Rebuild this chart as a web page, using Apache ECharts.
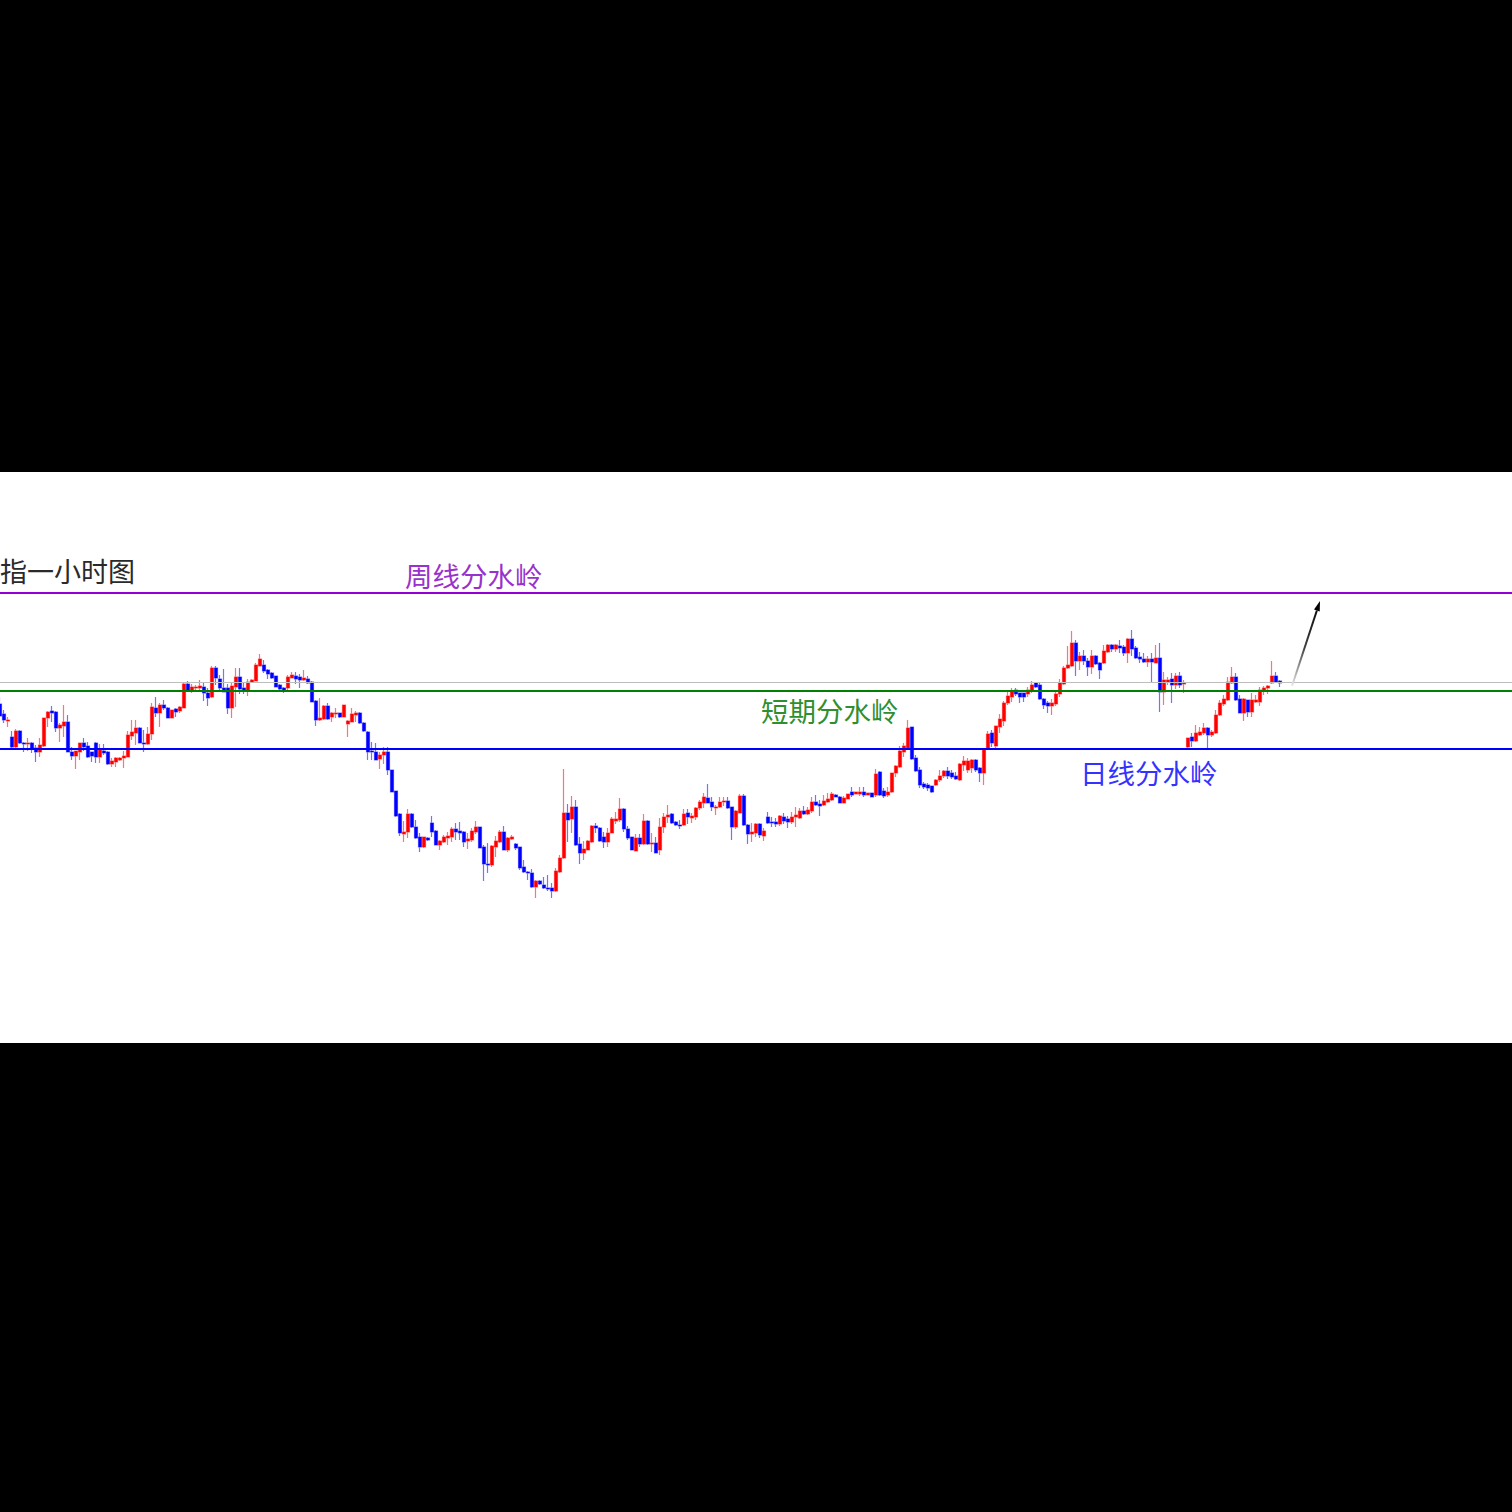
<!DOCTYPE html>
<html><head><meta charset="utf-8">
<script src="https://cdn.jsdelivr.net/npm/echarts@6/dist/echarts.min.js"></script>
<style>html,body{margin:0;padding:0;background:#000;}#c{width:1512px;height:1512px;}</style>
</head><body><div id="c"></div>
<script>
// One-hour candles (open, close, low, high)
const opens = [
98.39,98.29,98.22,98.06,97.96,98.12,98.00,97.99,98.00,97.95,
97.91,97.97,98.25,98.32,98.31,98.15,98.17,98.21,97.91,97.87,
97.91,98.00,97.97,97.91,98.00,97.86,97.92,97.91,97.79,97.81,
97.83,97.85,97.86,98.07,98.10,98.15,98.00,97.99,98.09,98.35,
98.30,98.38,98.35,98.25,98.34,98.32,98.35,98.59,98.53,98.55,
98.55,98.56,98.50,98.46,98.75,98.64,98.55,98.55,98.35,98.56,
98.66,98.55,98.53,98.61,98.62,98.77,98.78,98.73,98.70,98.67,
98.58,98.55,98.55,98.65,98.67,98.66,98.63,98.64,98.61,98.42,
98.23,98.24,98.37,98.26,98.29,98.30,98.26,98.19,98.21,98.28,
98.30,98.20,98.11,97.92,97.91,97.84,97.88,97.91,97.73,97.52,
97.29,97.09,97.11,97.29,97.16,97.06,96.96,97.05,97.20,97.12,
96.98,97.01,97.05,97.06,97.14,97.12,97.11,97.02,97.03,97.11,
97.16,96.96,96.79,96.78,96.96,97.01,97.11,96.93,97.04,96.99,
96.96,96.76,96.71,96.70,96.56,96.62,96.58,96.55,96.55,96.52,
96.71,96.85,97.30,97.24,97.36,96.99,96.90,96.93,97.01,97.17,
97.15,97.06,97.01,97.10,97.22,97.23,97.34,97.14,97.06,96.92,
97.05,96.99,97.22,96.99,97.00,96.93,97.16,97.26,97.29,97.21,
97.18,97.18,97.30,97.25,97.26,97.35,97.40,97.45,97.41,97.35,
97.36,97.41,97.42,97.36,97.16,97.30,97.47,97.18,97.09,97.10,
97.19,97.07,97.26,97.21,97.21,97.19,97.26,97.24,97.21,97.26,
97.25,97.32,97.29,97.32,97.41,97.39,97.38,97.41,97.43,97.48,
97.46,97.40,97.44,97.51,97.49,97.49,97.51,97.48,97.50,97.48,
97.71,97.52,97.48,97.51,97.70,97.76,97.91,97.95,98.16,97.85,
97.73,97.59,97.58,97.57,97.58,97.63,97.67,97.72,97.70,97.67,
97.63,97.78,97.73,97.75,97.83,97.75,97.70,97.95,98.10,97.97,
98.16,98.22,98.40,98.46,98.53,98.50,98.50,98.49,98.52,98.60,
98.58,98.44,98.40,98.37,98.39,98.49,98.59,98.75,98.77,99.00,
98.82,98.87,98.82,98.76,98.87,98.80,98.80,98.91,98.98,98.94,
98.97,98.96,98.90,99.04,98.95,98.86,98.84,98.81,98.84,98.80,
98.85,98.51,98.61,98.64,98.58,98.67,98.59,97.96,98.06,98.02,
98.08,98.10,98.15,98.08,98.10,98.28,98.39,98.43,98.60,98.66,
98.44,98.30,98.43,98.31,98.41,98.41,98.53,98.55,98.60,98.67,98.62
];
const closes = [
98.27,98.23,98.23,97.96,98.12,98.00,97.99,98.00,97.95,97.91,
97.98,98.25,98.31,98.30,98.15,98.18,98.21,97.91,97.87,97.92,
98.00,97.96,97.86,97.87,97.86,97.94,97.90,97.79,97.82,97.85,
97.85,97.87,98.08,98.11,98.15,98.00,97.99,98.09,98.36,98.30,
98.38,98.35,98.25,98.33,98.31,98.36,98.59,98.53,98.56,98.56,
98.57,98.50,98.45,98.75,98.65,98.55,98.51,98.35,98.57,98.66,
98.54,98.53,98.61,98.63,98.78,98.84,98.72,98.69,98.65,98.56,
98.54,98.53,98.66,98.68,98.64,98.63,98.65,98.60,98.41,98.23,
98.25,98.37,98.24,98.30,98.30,98.26,98.38,98.22,98.29,98.30,
98.20,98.12,97.91,97.91,97.83,97.88,97.91,97.73,97.51,97.27,
97.10,97.11,97.29,97.16,97.05,96.96,97.06,97.03,97.11,96.98,
97.02,97.06,97.07,97.14,97.11,97.10,97.01,97.04,97.12,97.16,
96.95,96.79,96.78,96.97,97.02,97.11,96.93,97.05,97.06,96.95,
96.75,96.71,96.70,96.56,96.62,96.59,96.55,96.54,96.52,96.72,
96.85,97.30,97.23,97.36,96.98,96.90,96.94,97.02,97.17,97.15,
97.02,97.01,97.10,97.24,97.24,97.34,97.14,97.05,96.93,97.05,
96.99,97.22,96.99,97.00,96.90,97.16,97.26,97.28,97.20,97.18,
97.17,97.29,97.26,97.27,97.35,97.41,97.46,97.40,97.36,97.36,
97.41,97.42,97.35,97.16,97.32,97.47,97.18,97.09,97.11,97.19,
97.08,97.12,97.20,97.20,97.19,97.27,97.22,97.21,97.26,97.28,
97.32,97.29,97.33,97.41,97.38,97.37,97.42,97.44,97.49,97.46,
97.40,97.45,97.49,97.48,97.51,97.51,97.48,97.50,97.46,97.69,
97.48,97.47,97.51,97.70,97.77,97.92,97.97,98.15,97.84,97.72,
97.58,97.56,97.55,97.51,97.63,97.67,97.72,97.67,97.66,97.64,
97.79,97.82,97.82,97.83,97.73,97.70,97.94,98.09,98.00,98.17,
98.24,98.40,98.47,98.52,98.49,98.46,98.46,98.53,98.58,98.56,
98.44,98.38,98.37,98.40,98.49,98.60,98.75,98.78,99.00,98.82,
98.87,98.82,98.76,98.87,98.79,98.73,98.92,98.98,98.94,98.98,
98.95,98.90,99.04,98.94,98.85,98.84,98.81,98.84,98.81,98.85,
98.51,98.63,98.63,98.58,98.67,98.58,98.60,98.05,98.02,98.10,
98.11,98.15,98.08,98.11,98.28,98.40,98.44,98.61,98.66,98.43,
98.30,98.44,98.31,98.43,98.43,98.53,98.55,98.57,98.67,98.61,98.60
];
const lows = [
98.26,98.20,98.16,97.95,97.95,97.99,97.91,97.92,97.90,97.81,
97.86,97.96,98.16,98.21,98.11,98.01,98.06,97.91,97.83,97.74,
97.83,97.92,97.85,97.81,97.80,97.80,97.88,97.78,97.76,97.76,
97.82,97.75,97.86,98.03,97.98,98.00,97.91,97.98,98.03,98.26,
98.16,98.33,98.25,98.25,98.26,98.30,98.35,98.51,98.50,98.53,
98.53,98.42,98.37,98.45,98.58,98.51,98.51,98.29,98.25,98.36,
98.49,98.49,98.47,98.60,98.62,98.77,98.70,98.64,98.64,98.56,
98.52,98.50,98.53,98.65,98.59,98.55,98.62,98.59,98.41,98.17,
98.22,98.23,98.23,98.21,98.25,98.25,98.26,98.06,98.21,98.21,
98.19,98.11,97.83,97.83,97.83,97.74,97.79,97.68,97.51,97.26,
97.07,97.01,97.05,97.15,97.04,96.91,96.95,97.02,97.06,96.98,
96.93,97.00,96.98,97.01,97.03,97.03,96.96,96.94,97.01,97.09,
96.95,96.62,96.70,96.76,96.86,97.00,96.93,96.91,97.03,96.93,
96.73,96.70,96.63,96.55,96.45,96.58,96.54,96.52,96.45,96.51,
96.70,96.84,97.01,97.10,96.97,96.79,96.83,96.93,97.00,97.10,
97.01,96.95,96.96,97.10,97.19,97.21,97.11,97.03,96.93,96.92,
96.96,96.98,96.98,96.91,96.90,96.88,97.10,97.20,97.19,97.17,
97.14,97.17,97.19,97.20,97.23,97.33,97.35,97.40,97.32,97.28,
97.35,97.37,97.34,97.03,97.14,97.30,97.17,96.99,97.01,97.06,
97.05,97.02,97.19,97.16,97.16,97.17,97.19,97.15,97.19,97.16,
97.24,97.28,97.28,97.30,97.37,97.27,97.37,97.40,97.42,97.46,
97.40,97.40,97.44,97.46,97.49,97.47,97.46,97.48,97.46,97.46,
97.47,97.45,97.46,97.50,97.66,97.75,97.86,97.93,97.83,97.71,
97.55,97.54,97.52,97.50,97.57,97.61,97.65,97.64,97.64,97.63,
97.62,97.72,97.70,97.70,97.71,97.61,97.58,97.94,97.96,97.95,
98.10,98.17,98.38,98.41,98.47,98.40,98.41,98.46,98.50,98.55,
98.43,98.34,98.30,98.28,98.37,98.46,98.58,98.74,98.76,98.67,
98.73,98.78,98.67,98.69,98.78,98.64,98.79,98.90,98.91,98.91,
98.90,98.87,98.80,98.87,98.84,98.80,98.80,98.76,98.60,98.80,
98.31,98.38,98.58,98.40,98.54,98.55,98.50,97.95,97.96,98.01,
98.07,98.08,97.95,98.06,98.09,98.27,98.37,98.42,98.59,98.42,
98.30,98.22,98.26,98.26,98.40,98.37,98.48,98.49,98.59,98.60,98.56
];
const highs = [
98.46,98.33,98.26,98.12,98.14,98.13,98.01,98.05,98.01,97.98,
98.05,98.25,98.32,98.37,98.32,98.20,98.38,98.28,97.96,97.92,
98.00,98.05,98.01,97.91,98.01,97.99,97.99,97.92,97.85,97.86,
97.86,97.92,98.12,98.23,98.23,98.16,98.13,98.16,98.40,98.46,
98.40,98.43,98.36,98.33,98.35,98.37,98.60,98.62,98.59,98.58,
98.63,98.60,98.55,98.77,98.77,98.68,98.74,98.59,98.60,98.75,
98.75,98.60,98.64,98.64,98.80,98.89,98.83,98.74,98.71,98.67,
98.59,98.56,98.68,98.71,98.71,98.69,98.73,98.67,98.62,98.43,
98.45,98.38,98.40,98.31,98.35,98.30,98.38,98.23,98.35,98.32,
98.31,98.21,98.12,98.01,98.00,97.91,97.96,97.96,97.73,97.52,
97.30,97.22,97.34,97.30,97.23,97.10,97.06,97.06,97.27,97.13,
97.03,97.08,97.11,97.16,97.20,97.21,97.12,97.10,97.15,97.22,
97.16,96.98,97.00,96.98,97.07,97.13,97.17,97.06,97.08,97.00,
96.96,96.83,96.72,96.74,96.63,96.63,96.66,96.68,96.60,96.75,
96.88,97.74,97.39,97.47,97.43,97.06,97.02,97.03,97.18,97.20,
97.16,97.11,97.15,97.26,97.31,97.45,97.35,97.17,97.06,97.09,
97.09,97.29,97.23,97.10,97.06,97.25,97.30,97.38,97.30,97.22,
97.23,97.34,97.34,97.30,97.36,97.43,97.50,97.59,97.46,97.38,
97.46,97.46,97.46,97.36,97.33,97.49,97.49,97.19,97.20,97.20,
97.20,97.15,97.31,97.26,97.25,97.28,97.30,97.27,97.31,97.36,
97.35,97.37,97.36,97.46,97.48,97.43,97.48,97.50,97.51,97.49,
97.47,97.47,97.49,97.56,97.51,97.56,97.56,97.50,97.50,97.74,
97.72,97.55,97.56,97.70,97.78,97.97,98.00,98.23,98.16,97.88,
97.76,97.61,97.60,97.57,97.64,97.73,97.73,97.76,97.73,97.71,
97.80,97.87,97.85,97.84,97.84,97.76,97.94,98.12,98.13,98.17,
98.29,98.42,98.53,98.55,98.55,98.50,98.50,98.56,98.62,98.61,
98.60,98.45,98.42,98.44,98.51,98.64,98.77,98.97,99.12,99.03,
98.91,98.93,98.85,98.93,98.88,98.81,98.98,98.99,98.99,98.99,
99.03,98.98,99.05,99.13,98.97,98.91,98.90,98.87,98.90,98.98,
99.00,98.71,98.66,98.70,98.70,98.71,98.63,98.05,98.10,98.18,
98.16,98.20,98.16,98.13,98.33,98.43,98.48,98.66,98.76,98.70,
98.48,98.45,98.43,98.50,98.48,98.56,98.57,98.58,98.82,98.71,98.63
];
// Horizontal levels
const levelWeekly = 99.50;   // 周线分水岭
const levelGray = 98.605;
const levelShort = 98.52;    // 短期分水岭
const levelDaily = 97.945;   // 日线分水岭
// Arrow (slot index, price)
const arrowFrom = [323, 98.57];
const arrowTo = [330, 99.42];
// Slots on the time axis (candles plus empty space to the right)
const totalSlots = 379;
const categories = Array.from({length: totalSlots}, (_, i) => String(i + 1));

const ohlc = opens.map((o, i) => [o, closes[i], lows[i], highs[i]]);
const FONT = '"Noto Sans CJK SC", "Noto Sans", sans-serif';

const chart = echarts.init(document.getElementById('c'), null, {renderer: 'svg'});
const baseTexts = [
  {type: 'text', x: 0, y: 557, z: 100, style: {text: '指一小时图', fontSize: 27, fontFamily: FONT, fill: '#2a2a2a', verticalAlign: 'top'}},
  {type: 'text', x: 405, y: 561, z: 100, style: {text: '周线分水岭', fontSize: 27.5, fontFamily: FONT, fill: '#9932cc', verticalAlign: 'top'}},
  {type: 'text', x: 761, y: 696, z: 100, style: {text: '短期分水岭', fontSize: 27.5, fontFamily: FONT, fill: '#2f8f2f', verticalAlign: 'top'}},
  {type: 'text', x: 1080, y: 758, z: 100, style: {text: '日线分水岭', fontSize: 27.5, fontFamily: FONT, fill: '#3333ff', verticalAlign: 'top'}}
];
chart.setOption({
  backgroundColor: '#000',
  animation: false,
  grid: {left: 0, top: 472, width: 1512, height: 571, show: true, backgroundColor: '#fff', borderWidth: 0},
  xAxis: {type: 'category', data: categories, boundaryGap: false,
    axisLine: {show: false}, axisTick: {show: false}, axisLabel: {show: false}, splitLine: {show: false}},
  yAxis: {type: 'value', min: 95, max: 100.71,
    axisLine: {show: false}, axisTick: {show: false}, axisLabel: {show: false}, splitLine: {show: false}},
  series: [{
    type: 'candlestick',
    data: ohlc,
    barWidth: 2.6,
    itemStyle: {color: '#ff0000', color0: '#0000ff', borderColor: 'rgba(255,0,0,0.55)', borderColor0: 'rgba(0,0,255,0.55)', borderWidth: 1.2},
    markLine: {
      silent: true, symbol: 'none', animation: false, label: {show: false},
      data: [
        {yAxis: levelGray, lineStyle: {color: '#bdbdbd', width: 1, type: 'solid'}},
        {yAxis: levelWeekly, lineStyle: {color: '#9400d3', width: 2, type: 'solid'}},
        {yAxis: levelShort, lineStyle: {color: '#008000', width: 2, type: 'solid'}},
        {yAxis: levelDaily, lineStyle: {color: '#0000ff', width: 2, type: 'solid'}}
      ]
    }
  }],
  graphic: {elements: baseTexts}
});

// Arrow placed through the chart's own scales
const p1 = chart.convertToPixel({gridIndex: 0}, arrowFrom);
const p2 = chart.convertToPixel({gridIndex: 0}, arrowTo);
const dx = p2[0] - p1[0], dy = p2[1] - p1[1];
const len = Math.sqrt(dx * dx + dy * dy);
const ux = dx / len, uy = dy / len, nx = -uy, ny = ux;
const headL = 10, headW = 3;
const bx = p2[0] - ux * headL, by = p2[1] - uy * headL;
chart.setOption({
  graphic: {elements: baseTexts.concat([
    {type: 'line', z: 100, shape: {x1: p1[0], y1: p1[1], x2: bx, y2: by},
      style: {lineWidth: 2, stroke: {type: 'linear', x: p1[0], y: p1[1], x2: p2[0], y2: p2[1], global: true,
        colorStops: [{offset: 0, color: '#e8e8e8'}, {offset: 0.45, color: '#404040'}, {offset: 1, color: '#000000'}]}}},
    {type: 'polygon', z: 100, shape: {points: [[p2[0], p2[1]], [bx + nx * headW, by + ny * headW], [bx - nx * headW, by - ny * headW]]},
      style: {fill: '#000'}}
  ])}
});
</script>
</body></html>
